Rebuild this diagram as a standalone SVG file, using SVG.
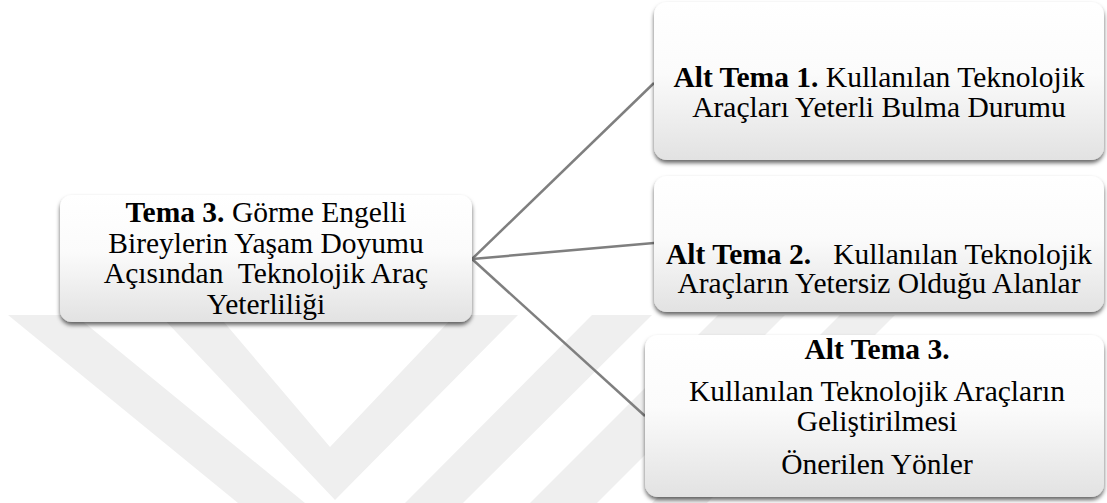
<svg xmlns="http://www.w3.org/2000/svg" width="1107" height="503" viewBox="0 0 1107 503">
  <defs>
    <linearGradient id="nodeFill" x1="0" y1="0" x2="0" y2="1">
      <stop offset="0" stop-color="#ffffff"/>
      <stop offset="0.45" stop-color="#fbfbfb"/>
      <stop offset="1" stop-color="#e2e2e2"/>
    </linearGradient>
    <filter id="shadow" x="-5%" y="-10%" width="110%" height="125%">
      <feDropShadow dx="0" dy="3" stdDeviation="2.2" flood-color="#000000" flood-opacity="0.6"/>
    </filter>
  </defs>
  <style>
    .box { fill: url(#nodeFill); filter: url(#shadow); }
    .lbl { font-family: "Liberation Serif", "Times New Roman", serif; font-size: 29.5px; fill: #000000; text-anchor: middle; }
    .b { font-weight: bold; }
    .conn { stroke: #7f7f7f; stroke-width: 2.5; fill: none; }
    .wm { fill: #efefef; }
  </style>
  <rect width="1107" height="503" fill="#ffffff"/>
  <g id="watermark">
    <polygon class="wm" points="8,315 75,315 305,503 238,503"/>
    <polygon class="wm" points="160,315 218,315 330,447 455,315 518,315 335,500"/>
    <polygon class="wm" points="592,315 652,315 463,503 405,503"/>
    <polygon class="wm" points="718,315 785,315 597,503 530,503"/>
    <polygon class="wm" points="840,315 895,315 707,503 652,503"/>
  </g>
  <g id="connectors">
    <line class="conn" x1="472" y1="259" x2="654" y2="83"/>
    <line class="conn" x1="472" y1="259" x2="654" y2="243"/>
    <line class="conn" x1="472" y1="259" x2="645" y2="416"/>
  </g>
  <g id="tema3">
    <rect class="box" x="60" y="195" width="412" height="127" rx="12"/>
    <text class="lbl" xml:space="preserve"><tspan x="266" y="222"><tspan class="b">Tema 3.</tspan> Görme Engelli</tspan><tspan x="266" y="252.5">Bireylerin Yaşam Doyumu</tspan><tspan x="266" y="283">Açısından  Teknolojik Araç</tspan><tspan x="266" y="313.5">Yeterliliği</tspan></text>
  </g>
  <g id="alt1">
    <rect class="box" x="654" y="2" width="450" height="158" rx="13"/>
    <text class="lbl"><tspan x="879" y="87"><tspan class="b">Alt Tema 1.</tspan> Kullanılan Teknolojik</tspan><tspan x="879" y="117">Araçları Yeterli Bulma Durumu</tspan></text>
  </g>
  <g id="alt2">
    <rect class="box" x="654" y="176" width="450" height="136" rx="13"/>
    <text class="lbl" xml:space="preserve"><tspan x="879" y="264"><tspan class="b">Alt Tema 2.</tspan>   Kullanılan Teknolojik</tspan><tspan x="879" y="293">Araçların Yetersiz Olduğu Alanlar</tspan></text>
  </g>
  <g id="alt3">
    <rect class="box" x="645" y="335" width="459" height="162" rx="13"/>
    <text class="lbl"><tspan class="b" x="877" y="359">Alt Tema 3.</tspan><tspan x="877" y="401">Kullanılan Teknolojik Araçların</tspan><tspan x="877" y="431">Geliştirilmesi</tspan><tspan x="877" y="474">Önerilen Yönler</tspan></text>
  </g>
</svg>
